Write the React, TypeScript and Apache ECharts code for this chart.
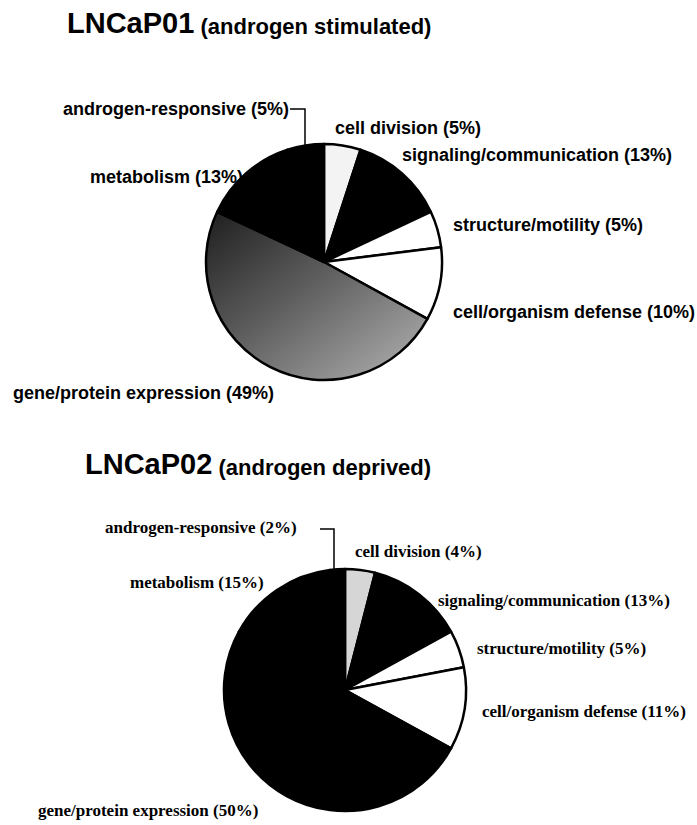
import React, { useEffect, useRef } from "react";
import * as echarts from "echarts";

// ---- data ----
const categories = [
  "cell division",
  "signaling/communication",
  "structure/motility",
  "cell/organism defense",
  "gene/protein expression",
  "metabolism",
  "androgen-responsive",
];
const stimulatedValues = [5, 13, 5, 10, 49, 13, 5];
const deprivedValues = [4, 13, 5, 11, 50, 15, 2];
const titleMain = ["LNCaP01", "LNCaP02"];
const titleSub = ["(androgen stimulated)", "(androgen deprived)"];

// ---- layout / style (not data) ----
const topLabelPos = [
  [335, 128],
  [402, 155],
  [453, 225],
  [453, 312],
  [13, 393],
  [90, 177],
  [63, 109],
];
const bottomLabelPos = [
  [355, 551],
  [438, 600],
  [477, 648],
  [482, 711],
  [38, 810],
  [130, 582],
  [105, 527],
];

export default function App() {
  const ref = useRef<HTMLDivElement>(null);
  useEffect(() => {
    if (!ref.current) return;
    const chart = echarts.init(ref.current, undefined, { renderer: "svg" });
    const geneGradient = new echarts.graphic.LinearGradient(0, 0, 1, 1, [
      { offset: 0, color: "#1e1e1e" },
      { offset: 0.45, color: "#5e5e5e" },
      { offset: 1, color: "#b4b4b4" },
    ]);
    const topColors = ["#f3f3f3", "#000", "#fff", "#fff", geneGradient, "#000", "#000"];
    const bottomColors = ["#d6d6d6", "#000", "#fff", "#fff", "#000", "#000", "#000"];

    const sansFont = "'Liberation Sans', Arial, Helvetica, sans-serif";
    const serifFont = "'Liberation Serif', 'Times New Roman', serif";

    const mk = (values: number[], colors: any[]) =>
      categories.map((name, i) => ({
        name,
        value: values[i],
        itemStyle: { color: colors[i] },
      }));

    const labelFmt = (p: any) => `${p.name} (${p.value}%)`;
    const titleRich = {
      a: { fontFamily: sansFont, fontWeight: "bold", fontSize: 29, fill: "#000", verticalAlign: "bottom" },
      s: { fontFamily: sansFont, fontSize: 22, fill: "#000", verticalAlign: "bottom" },
      b: { fontFamily: sansFont, fontWeight: "bold", fontSize: 22, fill: "#000", verticalAlign: "bottom" },
    };

    chart.setOption({
      animation: false,
      graphic: [
        {
          type: "text",
          left: 67,
          top: 8,
          style: { text: `{a|${titleMain[0]}}{s|\u00a0}{b|${titleSub[0]}}`, rich: titleRich },
        },
        {
          type: "text",
          left: 85,
          top: 449,
          style: { text: `{a|${titleMain[1]}}{s|\u00a0}{b|${titleSub[1]}}`, rich: titleRich },
        },
        {
          type: "polyline",
          shape: { points: [[290, 109], [305, 109], [305, 146]] },
          style: { stroke: "#000", lineWidth: 1.5, fill: null },
        },
        {
          type: "polyline",
          shape: { points: [[320, 529], [334, 529], [334, 569]] },
          style: { stroke: "#000", lineWidth: 1.5, fill: null },
        },
      ],
      series: [
        {
          type: "pie",
          center: [324, 262],
          radius: 118,
          startAngle: 90,
          clockwise: true,
          silent: true,
          avoidLabelOverlap: false,
          itemStyle: { borderColor: "#000", borderWidth: 2.5 },
          label: {
            show: true,
            position: "outside",
            formatter: labelFmt,
            fontFamily: sansFont,
            fontWeight: "bold",
            fontSize: 18,
            color: "#000",
          },
          labelLine: { show: false },
          labelLayout: (params: any) => {
            const p = topLabelPos[params.dataIndex];
            return { x: p[0], y: p[1], align: "left", verticalAlign: "middle" };
          },
          emphasis: { disabled: true },
          data: mk(stimulatedValues, topColors),
        },
        {
          type: "pie",
          center: [345, 690],
          radius: 121,
          startAngle: 90,
          clockwise: true,
          silent: true,
          avoidLabelOverlap: false,
          itemStyle: { borderColor: "#000", borderWidth: 2.5 },
          label: {
            show: true,
            position: "outside",
            formatter: labelFmt,
            fontFamily: serifFont,
            fontWeight: "bold",
            fontSize: 17,
            color: "#000",
          },
          labelLine: { show: false },
          labelLayout: (params: any) => {
            const p = bottomLabelPos[params.dataIndex];
            return { x: p[0], y: p[1], align: "left", verticalAlign: "middle" };
          },
          emphasis: { disabled: true },
          data: mk(deprivedValues, bottomColors),
        },
      ],
    });
    return () => chart.dispose();
  }, []);
  return (
    <div
      ref={ref}
      style={{ position: "absolute", left: 0, top: 0, width: 697, height: 825, background: "#fff" }}
    />
  );
}
